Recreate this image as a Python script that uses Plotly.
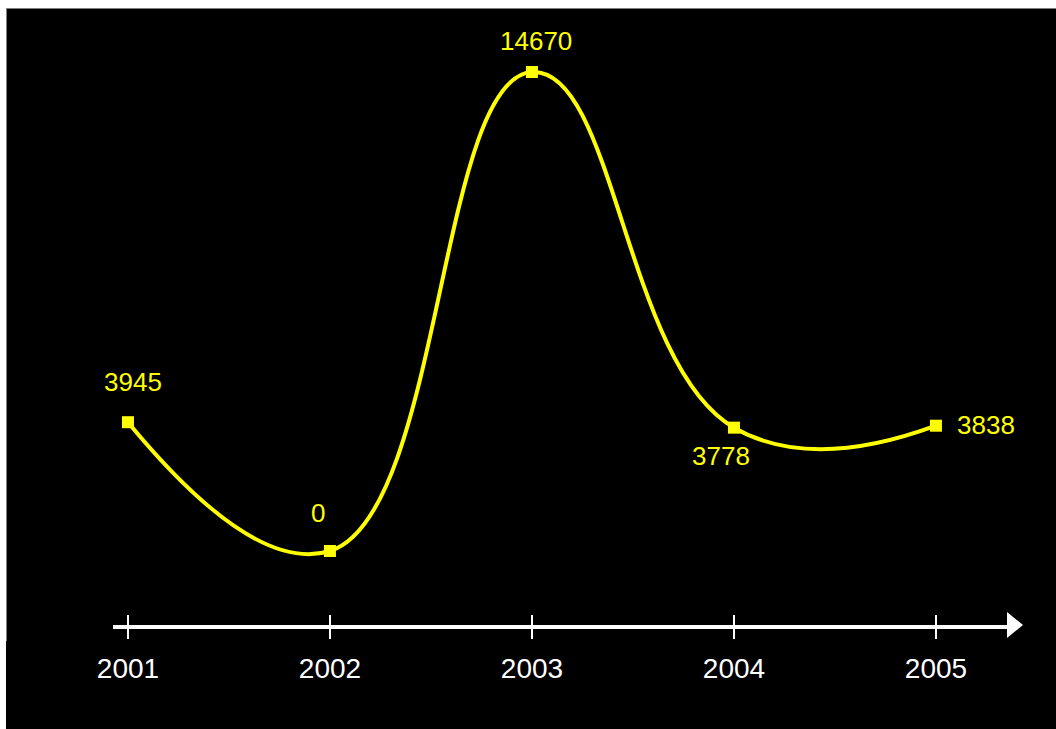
import plotly.graph_objects as go

years = [2001, 2002, 2003, 2004, 2005]
values = [3945, 0, 14670, 3778, 3838]
tick_labels = ["2001", "2002", "2003", "2004", "2005"]
# label offsets (pixels) relative to each point
label_dx = [5, -12, 4, -13, 50]
label_dy = [40, 38, 31, -28, 1]

# page body margin set to 8px top / 6px left; figure sits at (6, 8)
OX, OY = 6, 8
W, H = 1056 - OX, 729 - OY
L, T = 113 - OX, 8 - OY
R = W - (1010 - OX)
B = H - (625 - OY)
pw = W - L - R
ph = H - T - B

YEL = "#FFFF00"
FONT = "Liberation Sans, Arial, sans-serif"

fig = go.Figure()
fig.add_trace(go.Scatter(
    x=years, y=values, mode="lines+markers",
    line=dict(color=YEL, width=4, shape="spline", smoothing=1.3),
    marker=dict(symbol="square", size=12, color=YEL),
    hoverinfo="skip", showlegend=False, cliponaxis=False,
))
# invisible trace for the overlaying tick axis
fig.add_trace(go.Scatter(x=years, y=values, xaxis="x2", mode="markers",
                         marker=dict(opacity=0), showlegend=False, hoverinfo="skip"))

for x, v, dx, dy in zip(years, values, label_dx, label_dy):
    fig.add_annotation(x=x, y=v, text=str(v), showarrow=False,
                       xshift=dx, yshift=dy,
                       font=dict(color=YEL, size=26, family=FONT))

x0 = 2000.926
x1 = x0 + pw / 202.0
fig.update_layout(
    width=W, height=H,
    margin=dict(l=L, r=R, t=T, b=B, pad=0),
    paper_bgcolor="black", plot_bgcolor="black",
    xaxis=dict(range=[x0, x1], tickvals=years, ticktext=tick_labels,
               showgrid=False, zeroline=False,
               showline=True, linecolor="white", linewidth=4,
               ticks="outside", ticklen=10, tickwidth=2, tickcolor="white",
               ticklabelstandoff=5,
               tickfont=dict(color="white", size=28, family=FONT)),
    xaxis2=dict(range=[x0, x1], overlaying="x", anchor="y", side="bottom",
                tickvals=years, showticklabels=False,
                showgrid=False, zeroline=False, showline=False,
                ticks="inside", ticklen=10, tickwidth=2, tickcolor="white"),
    yaxis=dict(range=[-2266, 16631], visible=False, showgrid=False, zeroline=False),
)

def px2paper_x(p):
    return (p - OX - L) / pw

def px2paper_y(p):
    return (H - B - (p - OY)) / ph

# arrow head at the end of the axis
ax0 = px2paper_x(1007); axt = px2paper_x(1023)
ay_top = px2paper_y(612); ay_bot = px2paper_y(638); ay_mid = px2paper_y(625)
fig.add_shape(type="path", xref="paper", yref="paper",
              path=f"M {ax0} {ay_top} L {axt} {ay_mid} L {ax0} {ay_bot} Z",
              fillcolor="white", line=dict(color="white", width=0))

# thin grey border on top and left edges
fig.add_shape(type="line", xref="paper", yref="paper",
              x0=px2paper_x(OX), x1=px2paper_x(1056),
              y0=px2paper_y(OY + 0.5), y1=px2paper_y(OY + 0.5),
              line=dict(color="#7f7f7f", width=1))
fig.add_shape(type="line", xref="paper", yref="paper",
              x0=px2paper_x(OX + 0.5), x1=px2paper_x(OX + 0.5),
              y0=px2paper_y(OY), y1=px2paper_y(641),
              line=dict(color="#7f7f7f", width=1))

fig.write_html(
    "out.html",
    config={"displayModeBar": False},
    post_script="document.body.style.margin='8px 0 0 6px';document.body.style.overflow='hidden';",
)
